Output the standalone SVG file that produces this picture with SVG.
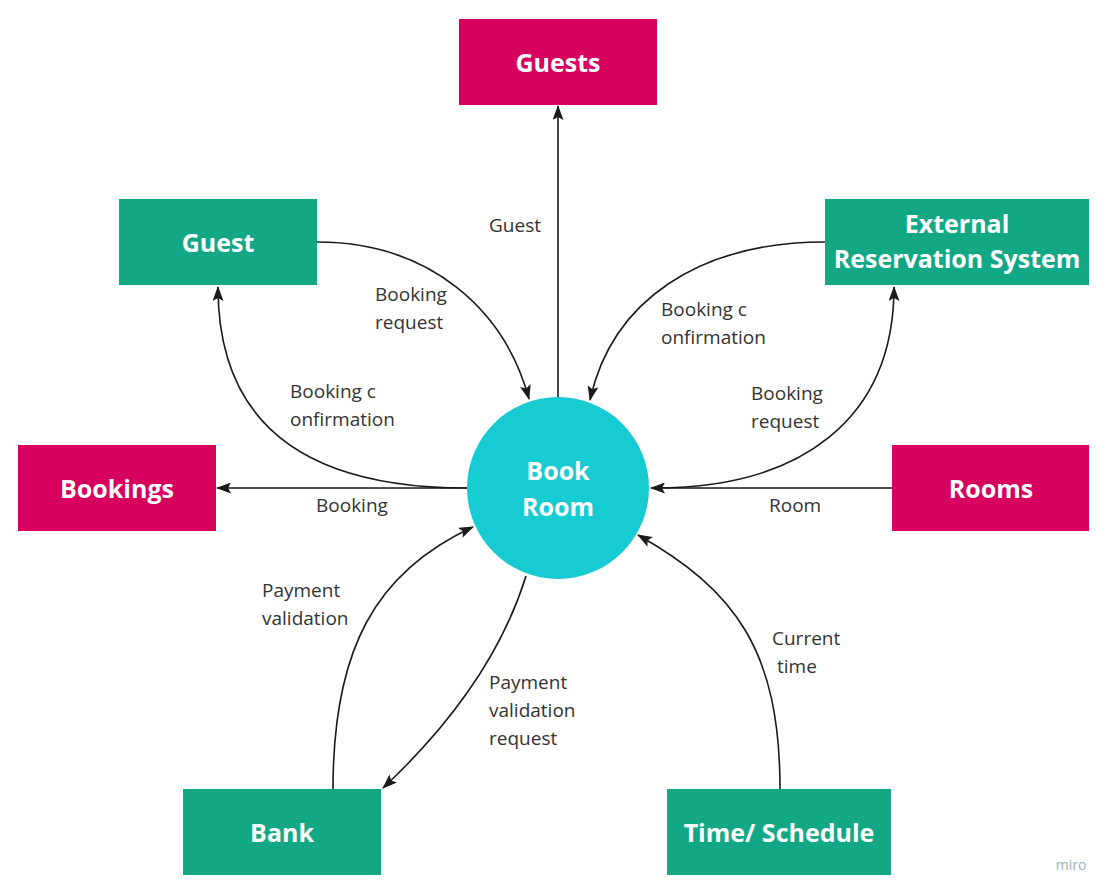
<svg xmlns="http://www.w3.org/2000/svg" width="1115" height="896" viewBox="0 0 1115 896">
<defs>
<marker id="arr" viewBox="0 0 15 11" refX="14" refY="5.5" markerWidth="15" markerHeight="11" markerUnits="userSpaceOnUse" orient="auto">
<path d="M0,0 L15,5.5 L0,11 L3,5.5 Z" fill="#1a1a1a"/>
</marker>
<style>
.store{fill:#D8005F}
.ext{fill:#12A886}
.proc{fill:#17CBD3}
.nt{font-family:"Open Sans","Liberation Sans",sans-serif;font-weight:bold;font-size:25px;fill:#ffffff;text-anchor:middle}
.lb{font-family:"Open Sans","Liberation Sans",sans-serif;font-size:19px;fill:#333333}
.c{fill:none;stroke:#1a1a1a;stroke-width:1.6;marker-end:url(#arr)}
</style>
</defs>
<rect width="1115" height="896" fill="#ffffff"/>
<g id="connectors">
<path class="c" d="M558,397 L558,106"/>
<path class="c" d="M317,242 C430,242 505,310 529,399"/>
<path class="c" d="M467,488 C300,488 218,420 218,287"/>
<path class="c" d="M467,488 L217,488"/>
<path class="c" d="M825,242 C700,242 612,300 590,400"/>
<path class="c" d="M655,488 C800,488 894,420 894,287"/>
<path class="c" d="M892,488 L651,488"/>
<path class="c" d="M333,789 C333,650 375,572 473,527"/>
<path class="c" d="M526,576 C500,660 445,730 383,788"/>
<path class="c" d="M780,789 C780,650 735,590 638,535"/>
</g>
<g id="labels">
<text class="lb" x="489" y="232">Guest</text>
<text class="lb" x="375" y="301">Booking</text>
<text class="lb" x="375" y="329">request</text>
<text class="lb" x="290" y="398">Booking c</text>
<text class="lb" x="290" y="426">onfirmation</text>
<text class="lb" x="316" y="512">Booking</text>
<text class="lb" x="661" y="316">Booking c</text>
<text class="lb" x="661" y="344">onfirmation</text>
<text class="lb" x="751" y="400">Booking</text>
<text class="lb" x="751" y="428">request</text>
<text class="lb" x="769" y="512">Room</text>
<text class="lb" x="262" y="597">Payment</text>
<text class="lb" x="262" y="625">validation</text>
<text class="lb" x="489" y="689">Payment</text>
<text class="lb" x="489" y="717">validation</text>
<text class="lb" x="489" y="745">request</text>
<text class="lb" x="772" y="645">Current</text>
<text class="lb" x="777" y="673">time</text>
</g>
<g id="guests"><rect class="store" x="459" y="19" width="198" height="86"/><text class="nt" x="558" y="72">Guests</text></g>
<g id="guest"><rect class="ext" x="119" y="199" width="198" height="86"/><text class="nt" x="218" y="252">Guest</text></g>
<g id="external"><rect class="ext" x="825" y="199" width="264" height="86"/><text class="nt" x="957" y="233">External</text><text class="nt" x="957" y="268">Reservation System</text></g>
<g id="bookings"><rect class="store" x="18" y="445" width="198" height="86"/><text class="nt" x="117" y="498">Bookings</text></g>
<g id="rooms"><rect class="store" x="892" y="445" width="197" height="86"/><text class="nt" x="991" y="498">Rooms</text></g>
<g id="bank"><rect class="ext" x="183" y="789" width="198" height="86"/><text class="nt" x="282" y="842">Bank</text></g>
<g id="time"><rect class="ext" x="667" y="789" width="224" height="86"/><text class="nt" x="779" y="842">Time/ Schedule</text></g>
<g id="bookroom"><circle class="proc" cx="558" cy="488" r="91"/><text class="nt" x="558" y="480">Book</text><text class="nt" x="558" y="516">Room</text></g>
<text x="1071" y="870" font-family="'Open Sans','Liberation Sans',sans-serif" font-size="14" fill="#9fb0bf" text-anchor="middle">miro</text>
</svg>
